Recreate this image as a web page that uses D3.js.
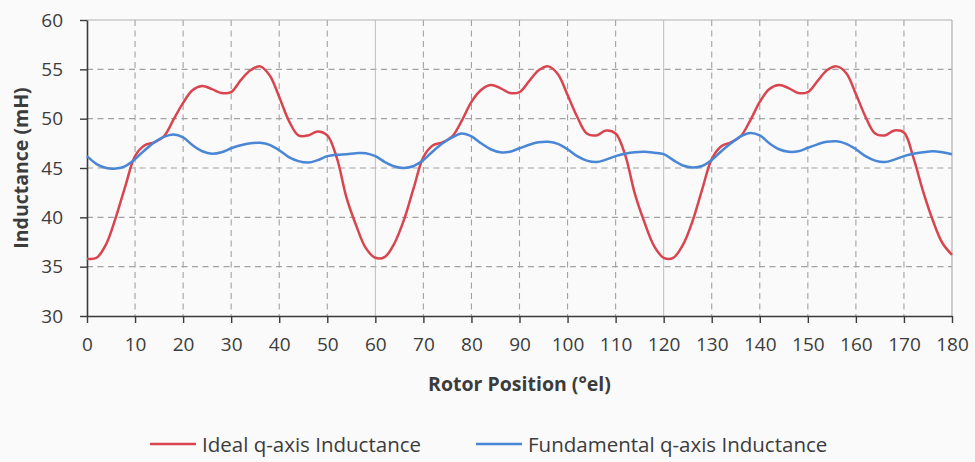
<!DOCTYPE html>
<html>
<head>
<meta charset="utf-8">
<script src="https://cdn.jsdelivr.net/npm/d3@7"></script>
<style>
  html, body { margin: 0; padding: 0; background: #fafafa; }
  svg { display: block; font-family: "Open Sans", sans-serif; }
</style>
</head>
<body>
<svg id="chart" width="975" height="462"></svg>
<script>
// Rotor position (°el), every 2 degrees
const positions = d3.range(0, 181, 2);

// Ideal q-axis inductance (mH)
const idealL = [
  35.8, 35.9, 37.3, 40.0, 43.2, 46.2, 47.3, 47.6, 48.2, 49.9,
  51.6, 52.9, 53.3, 53.0, 52.6, 52.7, 53.9, 54.9, 55.3, 54.4,
  52.2, 49.8, 48.3, 48.3, 48.7, 48.3, 46.0, 42.0, 39.2, 36.9,
  35.9, 36.0, 37.4, 39.8, 43.0, 46.1, 47.3, 47.6, 48.2, 49.8,
  51.7, 52.9, 53.4, 53.1, 52.6, 52.7, 53.8, 54.9, 55.3, 54.5,
  52.4, 50.2, 48.5, 48.3, 48.8, 48.5, 46.3, 42.4, 39.5, 37.1,
  35.9, 35.9, 37.2, 39.6, 42.8, 45.9, 47.2, 47.6, 48.2, 49.8,
  51.7, 53.0, 53.4, 53.1, 52.6, 52.7, 53.8, 54.9, 55.3, 54.6,
  52.5, 50.2, 48.5, 48.3, 48.8, 48.6, 46.0, 42.6, 39.7, 37.4,
  36.2
];

// Fundamental q-axis inductance (mH)
const fundamentalL = [
  46.2, 45.4, 45.0, 44.95, 45.2, 45.9, 46.8, 47.6, 48.15, 48.4,
  48.1, 47.3, 46.7, 46.45, 46.6, 47.0, 47.3, 47.5, 47.55, 47.35,
  46.8, 46.1, 45.7, 45.55, 45.8, 46.2, 46.35, 46.4, 46.5, 46.5,
  46.2, 45.6, 45.15, 45.0, 45.2, 45.8, 46.7, 47.5, 48.1, 48.5,
  48.2, 47.5, 46.9, 46.6, 46.65, 47.0, 47.35, 47.6, 47.65, 47.45,
  46.9, 46.2, 45.75, 45.6, 45.85, 46.2, 46.45, 46.6, 46.65, 46.55,
  46.4, 45.8, 45.25, 45.05, 45.2, 45.8, 46.7, 47.5, 48.2, 48.55,
  48.3, 47.5, 46.9, 46.65, 46.7, 47.05, 47.4, 47.65, 47.7, 47.45,
  46.9, 46.2, 45.75, 45.6, 45.85, 46.2, 46.45, 46.6, 46.7, 46.6,
  46.4
];

const xTicks = d3.range(0, 181, 10);
const yTicks = [30, 35, 40, 45, 50, 55, 60];
const seriesNames = ["Ideal q-axis Inductance", "Fundamental q-axis Inductance"];
const seriesColors = ["#d9454f", "#4a86d6"];

(function () {
const svg = d3.select("#chart");
const pLeft = 87, pRight = 952, pTop = 20, pBottom = 316;

const x = d3.scaleLinear().domain([0, 180]).range([pLeft, pRight]);
const y = d3.scaleLinear().domain([30, 60]).range([pBottom, pTop]);

const textColor = "#3c3c3c";
const gridColor = "#a2a2a2";

// grid: horizontal dashed
const grid = svg.append("g");
grid.selectAll("line.h").data(yTicks.filter(v => v > 30 && v < 60)).join("line")
  .attr("x1", pLeft).attr("x2", pRight)
  .attr("y1", d => y(d)).attr("y2", d => y(d))
  .attr("stroke", gridColor).attr("stroke-width", 1.1)
  .attr("stroke-dasharray", "6,4.5");
// vertical gridlines
grid.selectAll("line.v").data(xTicks.filter(v => v > 0 && v < 180)).join("line")
  .attr("x1", d => x(d)).attr("x2", d => x(d))
  .attr("y1", pTop).attr("y2", pBottom)
  .attr("stroke", d => (d % 60 === 0) ? "#bdbdbd" : gridColor)
  .attr("stroke-width", d => (d % 60 === 0) ? 1 : 1.1)
  .attr("stroke-dasharray", d => (d % 60 === 0) ? null : "6,4.5");
// top and right border
grid.append("line").attr("x1", pLeft).attr("x2", pRight).attr("y1", y(60)).attr("y2", y(60))
  .attr("stroke", "#b0b0b0").attr("stroke-width", 1.2);
grid.append("line").attr("x1", x(180)).attr("x2", x(180)).attr("y1", pTop).attr("y2", pBottom)
  .attr("stroke", "#b0b0b0").attr("stroke-width", 1.2);

// axes
const yAxis = svg.append("g").attr("transform", `translate(${pLeft},0)`)
  .call(d3.axisLeft(y).tickValues(yTicks).tickSize(7).tickPadding(17).tickSizeOuter(0));
const xAxis = svg.append("g").attr("transform", `translate(0,${pBottom})`)
  .call(d3.axisBottom(x).tickValues(xTicks).tickSize(7).tickPadding(15).tickSizeOuter(0));
[yAxis, xAxis].forEach(a => {
  a.select(".domain").attr("stroke", "#3a3a3a").attr("stroke-width", 1.6);
  a.selectAll(".tick line").attr("stroke", "#3a3a3a").attr("stroke-width", 1.4);
  a.selectAll(".tick text").attr("fill", textColor)
    .style("font-size", "19px").style("font-family", "'Open Sans', sans-serif");
});

// lines
const line = d3.line().curve(d3.curveCatmullRom.alpha(0.5))
  .x(d => x(d[0])).y(d => y(d[1]));
const series = [idealL, fundamentalL];
series.forEach((vals, i) => {
  svg.append("path")
    .datum(positions.map((p, j) => [p, vals[j]]))
    .attr("fill", "none")
    .attr("stroke", seriesColors[i])
    .attr("stroke-width", 2.5)
    .attr("stroke-linejoin", "round")
    .attr("d", line);
});

// axis titles
svg.append("text")
  .attr("x", (pLeft + pRight) / 2).attr("y", 391)
  .attr("text-anchor", "middle")
  .attr("fill", textColor)
  .style("font-size", "19.5px").style("font-weight", "bold")
  .text("Rotor Position (°el)");
svg.append("text")
  .attr("transform", `translate(28,${(pTop + pBottom) / 2}) rotate(-90)`)
  .attr("text-anchor", "middle")
  .attr("fill", textColor)
  .style("font-size", "19.5px").style("font-weight", "bold")
  .text("Inductance (mH)");

// legend
const legendX = [150, 476];
const legend = svg.append("g");
seriesNames.forEach((name, i) => {
  legend.append("line")
    .attr("x1", legendX[i]).attr("x2", legendX[i] + 46)
    .attr("y1", 444).attr("y2", 444)
    .attr("stroke", seriesColors[i]).attr("stroke-width", 2.5);
  legend.append("text")
    .attr("x", legendX[i] + 52).attr("y", 452)
    .attr("fill", textColor)
    .style("font-size", "20.5px")
    .text(name);
});
})();
</script>
</body>
</html>
